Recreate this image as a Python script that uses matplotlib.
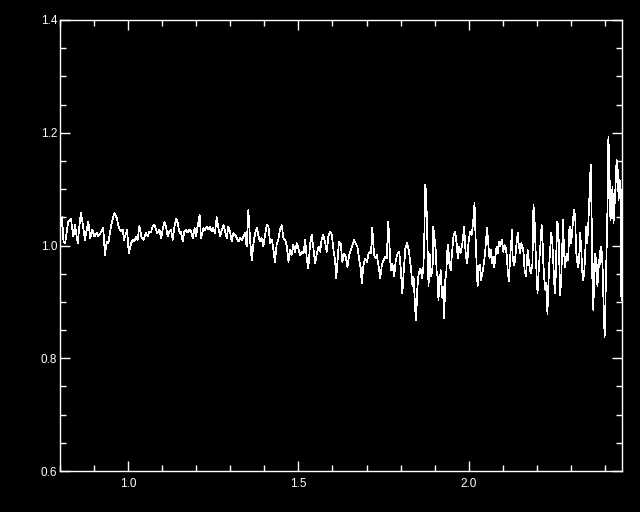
import matplotlib
matplotlib.use('Agg')
import matplotlib.pyplot as plt
from matplotlib.ticker import MultipleLocator

# spectrum (peaks and dips of the trace)
wavelength = [
    0.801, 0.806, 0.810, 0.815, 0.824, 0.832, 0.839, 0.844, 0.852, 0.861,
    0.866, 0.873, 0.883, 0.889, 0.895, 0.901, 0.908, 0.912, 0.919, 0.927,
    0.932, 0.937, 0.942, 0.950, 0.960, 0.967, 0.973, 0.979, 0.984, 0.988,
    0.997, 1.002, 1.009, 1.013, 1.018, 1.023, 1.028, 1.033, 1.040, 1.045,
    1.052, 1.058, 1.062, 1.067, 1.072, 1.077, 1.082, 1.086, 1.092, 1.097,
    1.102, 1.107, 1.111, 1.116, 1.121, 1.126, 1.131, 1.136, 1.141, 1.146,
    1.151, 1.155, 1.160, 1.165, 1.170, 1.175, 1.180, 1.185, 1.190, 1.195,
    1.199, 1.204, 1.210,
    1.214, 1.221, 1.226, 1.231, 1.236, 1.241, 1.245, 1.250, 1.255, 1.260,
    1.265, 1.270, 1.275, 1.280, 1.285, 1.290, 1.294, 1.299, 1.304, 1.309,
    1.314, 1.319, 1.324, 1.329, 1.334, 1.338, 1.343, 1.348, 1.353, 1.358,
    1.363, 1.368, 1.373, 1.378, 1.383, 1.387, 1.392, 1.397, 1.402, 1.407,
    1.412, 1.417, 1.422, 1.426, 1.431, 1.436, 1.441, 1.446, 1.451, 1.456,
    1.461, 1.466, 1.471, 1.475, 1.480, 1.485, 1.490, 1.495, 1.500, 1.505,
    1.510, 1.515, 1.520, 1.524, 1.529, 1.534, 1.539, 1.544, 1.549, 1.554,
    1.559, 1.564, 1.568, 1.573, 1.578, 1.583, 1.588, 1.593, 1.598, 1.603,
    1.608, 1.611, 1.615, 1.619,
    1.624, 1.629, 1.634, 1.639, 1.644, 1.649, 1.654, 1.659, 1.663, 1.668,
    1.673, 1.678, 1.683, 1.686, 1.691, 1.696, 1.701, 1.706, 1.710, 1.713,
    1.717, 1.722, 1.727, 1.730, 1.735, 1.740, 1.745, 1.750, 1.754, 1.759,
    1.764, 1.767, 1.771, 1.776, 1.781, 1.786, 1.791, 1.796, 1.800, 1.805,
    1.810, 1.814, 1.819, 1.824,
    1.828, 1.831, 1.835, 1.838, 1.841, 1.843, 1.846, 1.848, 1.852, 1.857,
    1.860, 1.862, 1.865, 1.867, 1.870, 1.872, 1.875, 1.879, 1.882, 1.885,
    1.890, 1.894, 1.896, 1.899, 1.903, 1.906, 1.909, 1.911, 1.914, 1.918,
    1.921, 1.924, 1.928, 1.931, 1.934, 1.938, 1.940, 1.943, 1.947, 1.950,
    1.955, 1.960, 1.965, 1.968, 1.972, 1.976, 1.980, 1.983, 1.987, 1.989,
    1.992, 1.996, 1.999, 2.004, 2.009, 2.013, 2.017, 2.020, 2.023, 2.026,
    2.029, 2.033,
    2.036, 2.039, 2.043, 2.048, 2.051, 2.054, 2.058, 2.061, 2.065, 2.068,
    2.071, 2.075, 2.078, 2.082, 2.085, 2.089, 2.092, 2.097, 2.101, 2.105,
    2.109, 2.112, 2.115, 2.118, 2.121, 2.124, 2.127, 2.129, 2.133, 2.136,
    2.140, 2.144, 2.147, 2.151, 2.154, 2.158, 2.161, 2.164, 2.168, 2.171,
    2.173, 2.177, 2.180, 2.183, 2.187, 2.190, 2.193, 2.196, 2.199, 2.202,
    2.205, 2.208, 2.211, 2.214, 2.217, 2.219, 2.222, 2.225, 2.228, 2.231,
    2.234, 2.237, 2.239,
    2.242, 2.245, 2.248, 2.251, 2.254, 2.257, 2.260, 2.263, 2.266, 2.268,
    2.271, 2.274, 2.277, 2.280, 2.283, 2.286, 2.289, 2.292, 2.295, 2.298,
    2.301, 2.304, 2.307, 2.310, 2.313, 2.315, 2.318, 2.321, 2.324, 2.327,
    2.330, 2.333, 2.336, 2.339, 2.342, 2.345, 2.348, 2.352, 2.355, 2.358,
    2.361, 2.363, 2.366, 2.369, 2.372, 2.375, 2.378, 2.381, 2.384, 2.387,
    2.390, 2.393, 2.396, 2.399, 2.402, 2.405, 2.408, 2.410, 2.413, 2.416,
    2.419, 2.422, 2.425, 2.428, 2.431, 2.434, 2.437, 2.440, 2.443, 2.446,
    2.448, 2.451,
]

flux = [
    1.030, 1.050, 1.008, 1.004, 1.042, 1.048, 1.016, 1.036, 1.004, 1.058,
    1.042, 1.010, 1.042, 1.013, 1.028, 1.016, 1.022, 1.016, 1.022, 1.031,
    0.983, 1.007, 1.004, 1.036, 1.058, 1.048, 1.031, 1.025, 1.028, 1.010,
    1.028, 0.986, 1.004, 1.010, 1.007, 1.016, 1.010, 1.034, 1.013, 1.010,
    1.022, 1.016, 1.025, 1.023, 1.034, 1.037, 1.028, 1.022, 1.028, 1.013,
    1.031, 1.042, 1.034, 1.016, 1.025, 1.028, 1.010, 1.034, 1.048, 1.039,
    1.022, 1.025, 1.007, 1.025, 1.028, 1.023, 1.028, 1.025, 1.013, 1.031,
    1.016, 1.034, 1.054,
    1.013, 1.031, 1.028, 1.033, 1.029, 1.033, 1.025, 1.031, 1.022, 1.050,
    1.031, 1.016, 1.028, 1.036, 1.025, 1.013, 1.033, 1.025, 1.007, 1.022,
    1.019, 1.013, 1.007, 1.013, 1.010, 1.016, 1.022, 0.998, 1.063, 1.010,
    0.974, 1.004, 1.022, 1.031, 1.016, 1.007, 1.013, 0.998, 1.019, 1.036,
    1.034, 1.004, 1.010, 0.995, 0.971, 1.001, 1.010, 1.028, 1.036, 1.013,
    1.010, 0.998, 0.971, 0.992, 0.983, 1.001, 0.989, 1.004, 0.995, 0.983,
    0.989, 0.986, 1.010, 0.980, 0.959, 1.001, 1.019, 0.995, 0.968, 0.986,
    0.998, 0.989, 1.010, 1.019, 1.007, 0.989, 1.016, 1.025, 1.019, 0.992,
    0.971, 0.942, 0.974, 1.007,
    1.004, 0.971, 0.986, 0.980, 0.962, 0.983, 0.992, 1.001, 1.010, 1.004,
    0.998, 0.977, 0.959, 0.933, 0.965, 0.977, 0.971, 0.986, 0.989, 0.986,
    1.031, 0.983, 0.977, 0.983, 0.965, 0.942, 0.965, 0.974, 0.980, 0.977,
    1.042, 1.004, 0.956, 0.968, 0.945, 0.974, 0.986, 0.989, 0.962, 0.915,
    0.962, 0.995, 1.004, 0.992,
    0.971, 0.956, 0.927, 0.945, 0.909, 0.885, 0.868, 0.915, 0.945, 0.959,
    0.956, 0.942, 0.951, 0.962, 1.028, 1.108, 1.096, 0.998, 0.927, 0.986,
    0.945, 0.962, 1.033, 1.016, 0.992, 0.951, 0.945, 0.903, 0.933, 0.956,
    0.909, 0.927, 0.871, 0.939, 0.951, 1.001, 0.998, 0.968, 0.956, 0.980,
    1.016, 1.025, 1.001, 0.977, 0.998, 0.986, 0.998, 1.013, 1.033, 1.004,
    0.980, 0.968, 1.004, 1.025, 1.019, 1.042, 1.075, 1.016, 0.968, 0.927,
    0.962, 0.965,
    0.939, 0.948, 0.962, 0.986, 1.010, 1.031, 0.998, 0.977, 0.992, 0.968,
    0.980, 0.962, 0.980, 0.998, 0.986, 1.007, 0.998, 1.010, 0.989, 1.001,
    0.995, 0.980, 0.951, 0.936, 0.974, 0.998, 1.028, 0.980, 0.965, 0.974,
    1.001, 1.022, 1.001, 0.986, 1.004, 0.998, 0.986, 0.956, 0.945, 0.974,
    0.992, 0.968, 0.956, 0.951, 0.968, 1.072, 1.051, 0.998, 0.951, 0.915,
    0.951, 0.980, 1.007, 1.036, 1.004, 0.968, 0.939, 0.921, 0.933, 0.879,
    0.933, 0.974, 0.992,
    1.022, 1.010, 0.974, 0.933, 0.915, 0.986, 1.042, 1.033, 0.968, 0.912,
    0.933, 0.986, 1.045, 0.986, 0.962, 0.980, 0.986, 0.974, 1.028, 1.033,
    1.004, 1.028, 1.051, 1.063, 1.045, 0.992, 0.974, 0.962, 0.974, 1.022,
    0.998, 0.956, 0.939, 0.951, 0.986, 1.033, 1.004, 1.051, 1.099, 1.143,
    1.045, 0.939, 0.885, 0.974, 0.986, 0.951, 0.927, 0.974, 0.962, 0.998,
    0.992, 0.962, 0.891, 0.838, 0.915, 0.998, 1.087, 1.193, 1.140, 1.045,
    1.057, 1.105, 1.039, 1.069, 1.105, 1.152, 1.140, 1.081, 1.116, 1.105,
    0.909, 0.903,
]

xTicks = [1.0, 1.5, 2.0]
xTickLabels = ['1.0', '1.5', '2.0']
yTicks = [0.6, 0.8, 1.0, 1.2, 1.4]
yTickLabels = ['0.6', '0.8', '1.0', '1.2', '1.4']

plt.rcParams['font.family'] = ['Liberation Sans', 'DejaVu Sans']

fig = plt.figure(figsize=(6.4, 5.12), dpi=100, facecolor='black')
ax = fig.add_axes([60 / 640, 41 / 512, 562 / 640, 451 / 512])
ax.set_facecolor('black')

# IDL-style crisp 1 px trace
ax.plot(wavelength, flux, color='white', lw=0.5, antialiased=False)

ax.set_xlim(0.8, 2.45)
ax.set_ylim(0.6, 1.4)
ax.set_xticks(xTicks)
ax.set_xticklabels(xTickLabels)
ax.set_yticks(yTicks)
ax.set_yticklabels(yTickLabels)
ax.xaxis.set_minor_locator(MultipleLocator(0.1))
ax.yaxis.set_minor_locator(MultipleLocator(0.05))

for s in ax.spines.values():
    s.set_color('white')
    s.set_linewidth(1.0)

ax.tick_params(which='both', direction='in', top=True, right=True,
               colors='white', width=1.0, labelsize=8.5)
ax.tick_params(which='major', length=7.5)
ax.tick_params(which='minor', length=4.5)
ax.tick_params(axis='x', pad=5)
ax.tick_params(axis='y', pad=2)

fig.savefig('out.png', dpi=100, facecolor='black')
